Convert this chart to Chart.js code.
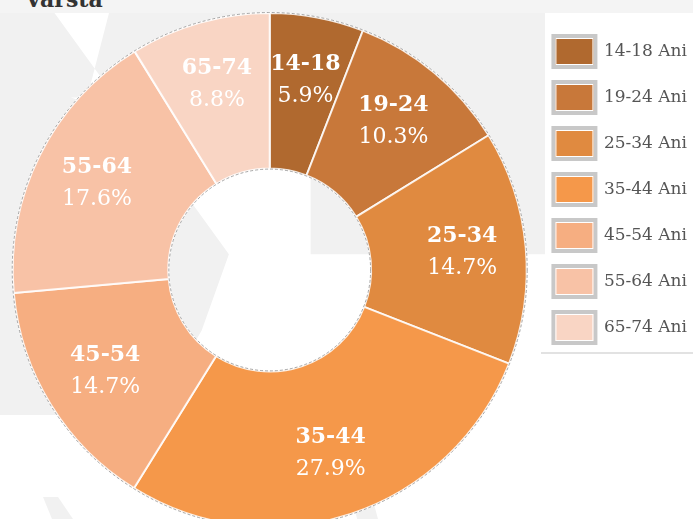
<!DOCTYPE html>
<html lang="ro">
<head>
    <meta charset="UTF-8">
    <title>Vârsta</title>
    <style>
        html, body { margin: 0; padding: 0; width: 693px; height: 519px; overflow: hidden; background: #fff; }
        #sus { position: absolute; left: 0; top: 0; width: 693px; height: 13px; background: #f4f4f4; overflow: hidden; }
        #sus h2 { margin: 0; position: absolute; left: 25px; top: -12px; font: bold 22px "DejaVu Serif"; line-height: 22px; color: #333; }
        .fond { position: absolute; background: #f1f1f1; }
        .alb { position: absolute; background: #fff; }
        #cutie { position: absolute; left: 0; top: 0; }
    </style>
    <script src="https://cdn.jsdelivr.net/npm/chart.js"></script>
</head>
<body>
    <div id="sus"><h2>Vârsta</h2></div>
    <!-- fundalul gri din spate (watermark) -->
    <div class="fond" style="left:0;top:13px;width:545px;height:402px;"></div>
    <div class="alb" style="left:0;top:13px;width:545px;height:402px;clip-path:polygon(10% 0,20% 0,16% 21%,13% 21%, 42% 34%,57% 34%,57% 60%,100% 60%,100% 100%,28% 100%,37% 79%,42% 60%);"></div>
    <div class="fond" style="left:43px;top:497px;width:30px;height:22px;clip-path:polygon(0 0,50% 0,100% 100%,30% 100%);"></div>
    <div class="fond" style="left:352px;top:500px;width:26px;height:19px;clip-path:polygon(0 0,80% 0,100% 100%,20% 100%);"></div>
    <div id="cutie"><canvas id="grafica" width="697" height="540"></canvas></div>
    <script>
        // Grupele de varsta si procentele
        const grupe = ["14-18", "19-24", "25-34", "35-44", "45-54", "55-64", "65-74"];
        const procente = [5.9, 10.3, 14.7, 27.9, 14.7, 17.6, 8.8];
        const culori = ["#b0692f", "#c8783a", "#e08a40", "#f5984a", "#f6ae81", "#f8c2a6", "#f9d5c4"];

        const $grafica = document.querySelector("#grafica");

        // etichetele albe din felii + conturul punctat
        const etichete = {
            id: 'etichete',
            afterDatasetsDraw(chart) {
                const ctx = chart.ctx;
                const meta = chart.getDatasetMeta(0);
                const a0 = meta.data[0];
                ctx.save();
                ctx.strokeStyle = 'rgba(110,110,110,0.6)';
                ctx.lineWidth = 1;
                ctx.setLineDash([3, 2]);
                ctx.beginPath();
                ctx.arc(a0.x, a0.y, a0.outerRadius + 0.5, 0, Math.PI * 2);
                ctx.stroke();
                ctx.beginPath();
                ctx.arc(a0.x, a0.y, a0.innerRadius - 0.5, 0, Math.PI * 2);
                ctx.stroke();
                ctx.restore();
                meta.data.forEach((arc, i) => {
                    const p = arc.getProps(['x', 'y', 'startAngle', 'endAngle', 'innerRadius', 'outerRadius'], true);
                    const mij = (p.startAngle + p.endAngle) / 2;
                    const r = p.innerRadius + (p.outerRadius - p.innerRadius) * 0.59;
                    const cx = p.x + Math.cos(mij) * r;
                    const cy = p.y + Math.sin(mij) * r;
                    ctx.save();
                    ctx.fillStyle = '#fff';
                    ctx.textAlign = 'center';
                    ctx.textBaseline = 'middle';
                    ctx.font = 'bold 22px "DejaVu Serif"';
                    ctx.fillText(grupe[i], cx, cy - 16);
                    ctx.font = '22px "DejaVu Serif"';
                    ctx.fillText(procente[i].toFixed(1) + '%', cx, cy + 16);
                    ctx.restore();
                });
            },
            afterDraw(chart) {
                // spatiul alb din casutele legendei si linia de sub legenda
                const ctx = chart.ctx;
                const boxes = chart.legend.legendHitBoxes;
                ctx.save();
                ctx.strokeStyle = '#fff';
                ctx.lineWidth = 1;
                boxes.forEach(b => ctx.strokeRect(b.left + 2.5, b.top + 2.5, 37, 26));
                const ult = boxes[boxes.length - 1];
                ctx.strokeStyle = '#e2e2e2';
                ctx.lineWidth = 2;
                ctx.beginPath();
                ctx.moveTo(541, ult.top + 41);
                ctx.lineTo(700, ult.top + 41);
                ctx.stroke();
                ctx.restore();
            }
        };

        const myChart = new Chart($grafica, {
            type: 'doughnut',
            data: {
                labels: grupe,
                datasets: [{
                    data: procente,
                    backgroundColor: culori,
                    borderColor: 'rgba(255,255,255,0.85)',
                    borderWidth: 2,
                    hoverOffset: 0
                }]
            },
            options: {
                responsive: false,
                animation: false,
                radius: 257,
                cutout: 101,
                layout: { padding: { top: 13, bottom: 13, left: 1, right: 0 } },
                plugins: {
                    tooltip: { enabled: false },
                    legend: {
                        position: 'right',
                        align: 'start',
                        title: { display: true, text: ' ', font: { size: 1, lineHeight: 1 }, padding: { top: 7, bottom: 0 } },
                        labels: {
                            boxWidth: 42,
                            boxHeight: 31,
                            padding: 15,
                            color: '#555',
                            font: { family: '"DejaVu Serif"', size: 17 },
                            generateLabels(chart) {
                                const base = Chart.overrides.doughnut.plugins.legend.labels.generateLabels(chart);
                                return base.map(it => Object.assign(it, {
                                    text: it.text + ' Ani',
                                    strokeStyle: '#c8c8c8',
                                    lineWidth: 4
                                }));
                            }
                        }
                    }
                }
            },
            plugins: [etichete]
        });
    </script>
</body>
</html>
